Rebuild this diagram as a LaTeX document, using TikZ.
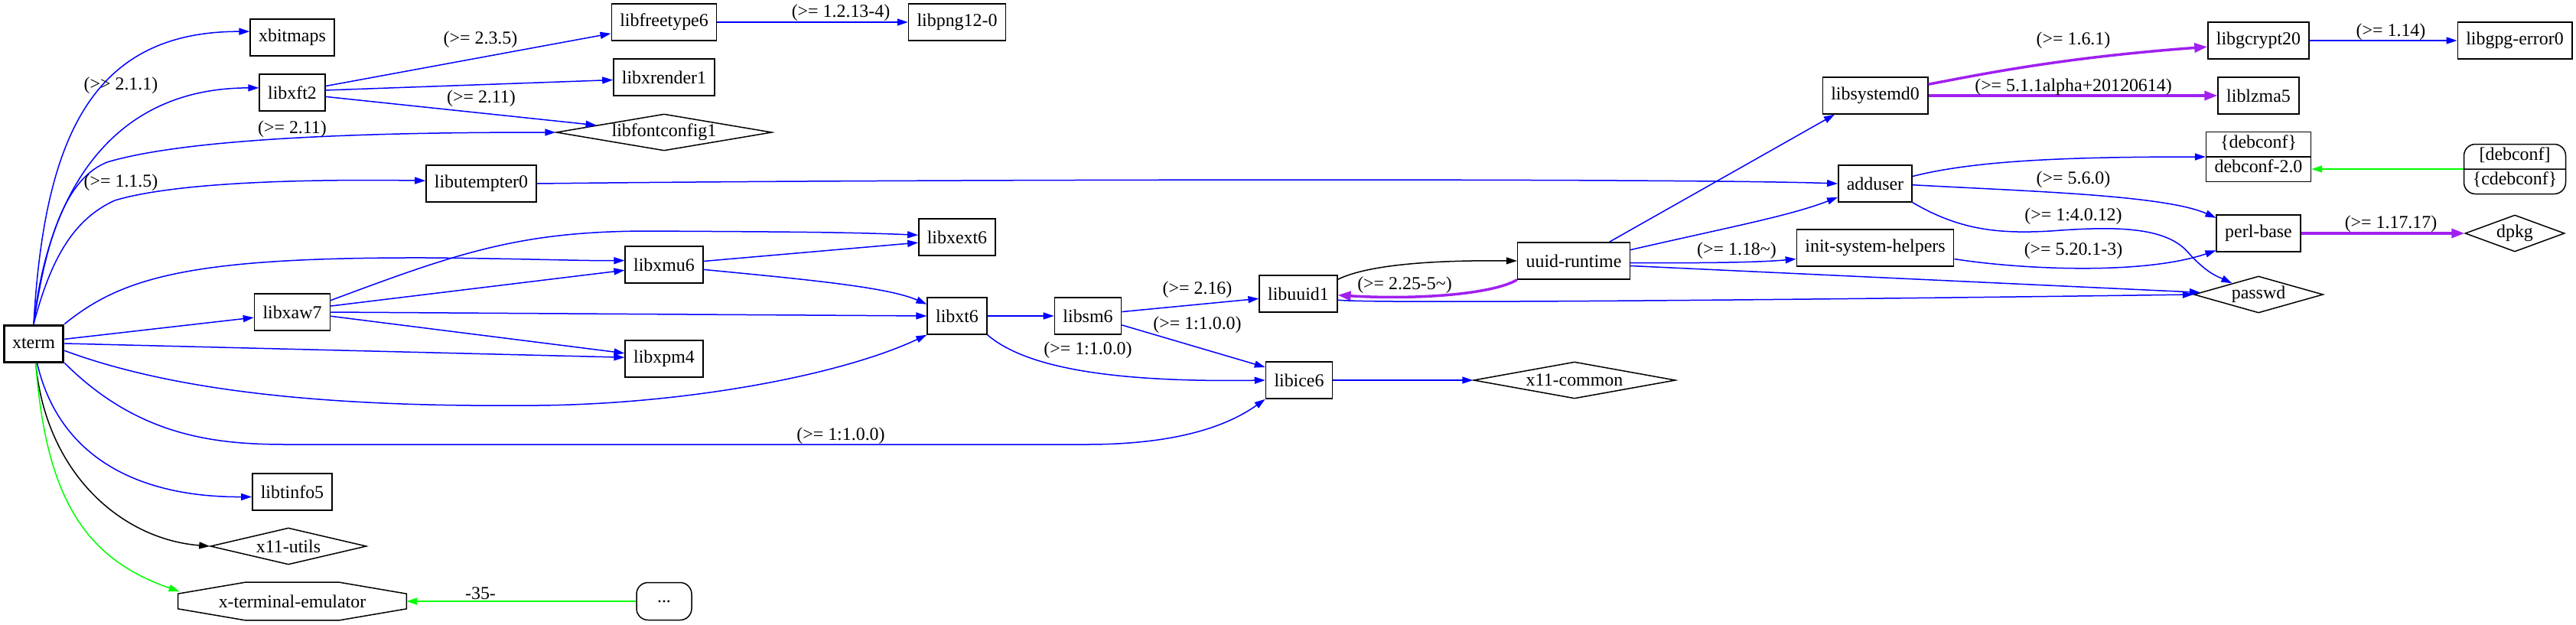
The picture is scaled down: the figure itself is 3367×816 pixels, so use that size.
\documentclass[tikz,border=0pt]{standalone}
\usepackage{fontspec}
\setmainfont{Liberation Serif}
\usetikzlibrary{arrows.meta,calc,shapes.geometric,shapes.multipart}
\definecolor{gvpurple}{HTML}{A020F0}
\newcommand{\recstrut}{\rule[-2.2mm]{0pt}{6.2mm}}

\begin{document}
\begin{tikzpicture}[x=0.2mm,y=-0.2mm,
  every node/.style={font=\fontsize{13.6}{16}\selectfont},
  pkg/.style={draw,line width=0.3mm,rectangle,minimum height=9.6mm,minimum width=14.4mm,inner xsep=2.2mm},
  vpkg/.style={draw,line width=0.3mm,diamond,inner sep=0pt,minimum height=9.6mm},
  ver/.style={inner sep=0pt},
  dep/.style={blue,line width=0.3mm,-{Triangle[length=2.8mm,width=1.8mm]}},
  predep/.style={gvpurple,line width=0.7mm,-{Triangle[length=3.4mm,width=2.4mm]}},
  rec/.style={black,line width=0.3mm,-{Triangle[length=2.8mm,width=1.8mm]}},
  prov/.style={green,line width=0.3mm,-{Triangle[length=2.8mm,width=1.8mm]}}]
  \useasboundingbox (0,0) rectangle (3367,816);
  % coordinates are pixels of the debtree output (y downwards)

  % packages, left to right
  \node[pkg,line width=0.6mm] (xterm) at (44,449) {xterm};
  \node[pkg] (xbitmaps) at (382,49) {xbitmaps};
  \node[pkg] (libxft) at (382,121) {libxft2};
  \node[pkg] (libxaw) at (382,408) {libxaw7};
  \node[pkg] (libtinfo) at (382,643) {libtinfo5};
  \node[vpkg,aspect=4.25,minimum width=40.8mm] (xutils) at (377,714) {x11-utils};
  \node[inner sep=0pt,minimum width=59.6mm,minimum height=9.8mm] (xemu) at (382,786) {x-terminal-emulator};
  \draw[line width=0.3mm] ($(xemu.north west)+(88,0)$) -- ($(xemu.north east)+(-88,0)$)
    -- ($(xemu.north east)+(0,15)$) -- ($(xemu.south east)+(0,-15)$)
    -- ($(xemu.south east)+(-88,0)$) -- ($(xemu.south west)+(88,0)$)
    -- ($(xemu.south west)+(0,-15)$) -- ($(xemu.north west)+(0,15)$) -- cycle;
  \coordinate (xemuarr) at ($(xemu.north west)+(2,12)$);

  \node[pkg] (freetype) at (868,29) {libfreetype6};
  \node[pkg] (xrender) at (868,101) {libxrender1};
  \node[vpkg,aspect=5.9,minimum width=56.4mm] (fontconfig) at (868,173) {libfontconfig1};
  \node[pkg] (utempter) at (629,240) {libutempter0};
  \node[pkg] (xmu) at (868,346) {libxmu6};
  \node[pkg] (xpm) at (868,469) {libxpm4};
  \node[pkg,rounded corners=3mm,minimum height=9.8mm] (dots) at (868,786) {...};

  \node[pkg] (png) at (1251,29) {libpng12-0};
  \node[pkg] (xext) at (1251,310) {libxext6};
  \node[pkg] (xt) at (1251,413) {libxt6};
  \node[pkg] (sm) at (1422,413) {libsm6};
  \node[pkg] (uuid) at (1697,384) {libuuid1};
  \node[pkg] (ice) at (1698,497) {libice6};
  \node[pkg] (uuidrt) at (2057,341) {uuid-runtime};
  \node[vpkg,aspect=5.5,minimum width=52.8mm] (xcommon) at (2058,497) {x11-common};

  \node[pkg] (systemd) at (2451,125) {libsystemd0};
  \node[pkg] (adduser) at (2451,240) {adduser};
  \node[pkg] (inithelpers) at (2451,324) {init-system-helpers};

  \node[pkg] (gcrypt) at (2952,53) {libgcrypt20};
  \node[pkg] (lzma) at (2952,125) {liblzma5};
  \node[draw,line width=0.3mm,rectangle split,rectangle split parts=2,inner ysep=0pt,
    inner xsep=2.2mm,minimum width=26.6mm] (debconf) at (2952,205)
    {\recstrut\{debconf\}\nodepart{two}\recstrut debconf-2.0};
  \node[pkg] (perlbase) at (2952,305) {perl-base};
  \node[vpkg,aspect=3.5,minimum width=33.8mm] (passwd) at (2952,385) {passwd};

  \node[pkg] (gpgerror) at (3287,53) {libgpg-error0};
  \node[draw,line width=0.3mm,rectangle split,rectangle split parts=2,inner ysep=0pt,
    inner xsep=2.2mm,minimum width=26.6mm,rounded corners=3mm] (cdebconf) at (3287,221)
    {\recstrut[debconf]\nodepart{two}\recstrut\{cdebconf\}};
  \node[vpkg,aspect=2.7,minimum width=26mm] (dpkg) at (3287,305) {dpkg};

  % xterm
  \draw[dep] (xterm.north) .. controls (58,180) and (120,41) .. (xbitmaps.172);
  \draw[dep] (xterm.north) .. controls (62,260) and (140,115) .. (libxft.172);
  \draw[dep] (xterm.north) .. controls (62,300) and (90,232) .. (140,212)
    .. controls (260,176) and (550,173) .. (fontconfig.west);
  \draw[dep] (xterm.north) .. controls (66,340) and (95,287) .. (150,262)
    .. controls (230,238) and (400,234) .. (utempter.177);
  \draw[dep] (xterm.north east) .. controls (160,362) and (250,336) .. (560,337)
    .. controls (680,338) and (760,341) .. (xmu.174);
  \draw[dep] (xterm.8) -- (libxaw.188);
  \draw[dep] (xterm.east) -- (xpm.178);
  \draw[dep] (xterm.-13) .. controls (250,520) and (480,532) .. (703,530)
    .. controls (900,528) and (1100,490) .. (xt.south west);
  \draw[dep] (xterm.south east) .. controls (180,570) and (280,581) .. (375,581) -- (1420,581)
    .. controls (1530,581) and (1600,560) .. (ice.south west);
  \draw[dep] (xterm.-80) .. controls (75,590) and (170,650) .. (libtinfo.187);
  \draw[rec] (xterm.-84) .. controls (60,620) and (160,705) .. (xutils.west);
  \draw[prov] (xterm.-84) .. controls (60,650) and (110,730) .. (xemuarr);
  \draw[prov] (dots.west) -- (xemu.east);

  % libxft2, libxaw7, libxmu6
  \draw[dep] (libxft.11) -- (freetype.192);
  \draw[dep] (libxft.4) -- (xrender.183);
  \draw[dep] (libxft.-7) -- (fontconfig.174);
  \draw[dep] (freetype.east) -- (png.west);
  \draw[dep] (libxaw.17) .. controls (600,330) and (680,302) .. (850,302)
    .. controls (1000,303) and (1100,303) .. (xext.177);
  \draw[dep] (libxaw.9) -- (xmu.188);
  \draw[dep] (libxaw.east) -- (xt.west);
  \draw[dep] (libxaw.-6) -- (xpm.172);
  \draw[dep] (xmu.5) -- (xext.188);
  \draw[dep] (xmu.-7) .. controls (1050,365) and (1160,375) .. (xt.159);
  \draw[dep] (utempter.east) .. controls (1200,234) and (2200,233) .. (adduser.west);

  % libxt6, libsm6, libice6, libuuid1
  \draw[dep] (xt.east) -- (sm.west);
  \draw[dep] (xt.south east) .. controls (1340,480) and (1450,500) .. (ice.west);
  \draw[dep] (sm.7) -- (uuid.187);
  \draw[dep] (sm.-15) -- (ice.159);
  \draw[dep] (ice.east) -- (xcommon.west);
  \draw[rec] (uuid.20) .. controls (1790,345) and (1880,340) .. (uuidrt.west);
  \draw[predep] (uuidrt.south west) .. controls (1950,385) and (1850,392) .. (uuid.-2);
  \draw[dep] (uuid.-9) .. controls (1800,398) and (2500,390) .. (passwd.west);

  % uuid-runtime
  \draw[dep] (uuidrt.28) -- (systemd.205);
  \draw[dep] (uuidrt.11) .. controls (2260,297) and (2340,282) .. (adduser.200);
  \draw[dep] (uuidrt.-2) .. controls (2230,344) and (2300,343) .. (inithelpers.188);
  \draw[dep] (uuidrt.-5) -- (passwd.178);

  % right part
  \draw[predep] (systemd.12) .. controls (2600,95) and (2700,75) .. (gcrypt.187);
  \draw[predep] (systemd.east) -- (lzma.west);
  \draw[dep] (gcrypt.east) -- (gpgerror.west);
  \draw[dep] (adduser.11) .. controls (2580,210) and (2700,205) .. (debconf.west);
  \draw[dep] (adduser.-2) .. controls (2650,250) and (2830,255) .. (perlbase.160);
  \draw[dep] (adduser.south east) .. controls (2560,300) and (2610,306) .. (2680,302)
    .. controls (2760,296) and (2830,295) .. (2860,330)
    .. controls (2885,358) and (2900,362) .. (passwd.157);
  \draw[dep] (inithelpers.-8) .. controls (2640,352) and (2800,360) .. (perlbase.202);
  \draw[predep] (perlbase.east) -- (dpkg.west);
  \draw[prov] (cdebconf.west) -- (cdebconf.west -| debconf.east);

  % version labels
  \node[ver] (lblxft) at (158,112) {(>{}> 2.1.1)};
  \node[ver] (lblfc) at (382,169) {(>= 2.11)};
  \node[ver] (lblutmp) at (158,239) {(>= 1.1.5)};
  \node[ver] (lblice) at (1099,570) {(>= 1:1.0.0)};
  \node[ver] (lblemu) at (628,776) {-35-};
  \node[ver] (lblft) at (628,52) {(>= 2.3.5)};
  \node[ver] (lblxftfc) at (629,129) {(>= 2.11)};
  \node[ver] (lblpng) at (1099,17) {(>= 1.2.13-4)};
  \node[ver] (lblxtice) at (1422,458) {(>= 1:1.0.0)};
  \node[ver] (lblsmuuid) at (1565,379) {(>= 2.16)};
  \node[ver] (lblsmice) at (1565,425) {(>= 1:1.0.0)};
  \node[ver] (lbluuid) at (1836,373) {(>= 2.25-5\textasciitilde)};
  \node[ver] (lblinit) at (2270,328) {(>= 1.18\textasciitilde)};
  \node[ver] (lblgcrypt) at (2710,53) {(>= 1.6.1)};
  \node[ver] (lbllzma) at (2710,114) {(>= 5.1.1alpha+20120614)};
  \node[ver] (lblgpg) at (3125,42) {(>= 1.14)};
  \node[ver] (lblperl) at (2710,235) {(>= 5.6.0)};
  \node[ver] (lblpasswd) at (2710,283) {(>= 1:4.0.12)};
  \node[ver] (lblinitperl) at (2710,328) {(>= 5.20.1-3)};
  \node[ver] (lbldpkg) at (3125,293) {(>= 1.17.17)};
\end{tikzpicture}
\end{document}
